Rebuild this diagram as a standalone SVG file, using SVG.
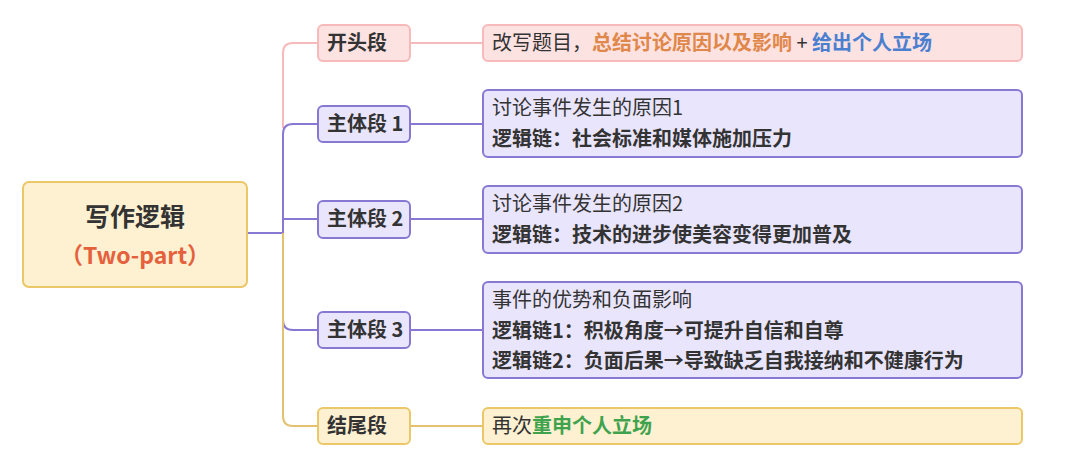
<svg xmlns="http://www.w3.org/2000/svg" width="1080" height="470" viewBox="0 0 1080 470">
<style>
text{font-family:"Noto Sans CJK SC","Noto Sans",sans-serif;fill:#333;font-size:20px}
.b{font-weight:bold}
.pk{fill:#fde2e2;stroke:#f7b9b9;stroke-width:2}
.pu{fill:#e9e5fc;stroke:#8878d4;stroke-width:2}
.ye{fill:#fdf1d2;stroke:#ebc768;stroke-width:2}
.lp{stroke:#f7b9b9;stroke-width:2;fill:none}
.lu{stroke:#8878d4;stroke-width:2;fill:none}
.ly{stroke:#e2c270;stroke-width:2;fill:none}
</style>
<rect width="1080" height="470" fill="#fff"/>
<g id="connectors">
<path class="lp" d="M318 43 H293 Q283 43 283 53 V128"/>
<path class="lu" d="M247 233 H283 M318 124 H293 Q283 124 283 134 V320 Q283 330 293 330 H318 M283 219 H318"/>
<path class="ly" d="M283 233 V416 Q283 426 293 426 H318"/>
<path class="lp" d="M410 43 H483"/>
<path class="lu" d="M410 124 H483 M410 219 H483 M410 330 H483"/>
<path class="ly" d="M410 426 H483"/>
</g>
<g id="root"><rect class="ye" x="23" y="182" width="224" height="105" rx="6"/>
<text class="b" x="135" y="226" text-anchor="middle" style="font-size:25px">写作逻辑</text>
<text class="b" x="135" y="264" text-anchor="middle" style="font-size:23px;fill:#e5603c">（Two-part）</text></g>
<g id="n1"><rect class="pk" x="318" y="25" width="92" height="36" rx="5"/><text class="b" x="327" y="50">开头段</text></g>
<g id="n2"><rect class="pu" x="318" y="106" width="92" height="36" rx="5"/><text class="b" x="327" y="131">主体段 1</text></g>
<g id="n3"><rect class="pu" x="318" y="201" width="92" height="37" rx="5"/><text class="b" x="327" y="226">主体段 2</text></g>
<g id="n4"><rect class="pu" x="318" y="312" width="92" height="36" rx="5"/><text class="b" x="327" y="337">主体段 3</text></g>
<g id="n5"><rect class="ye" x="318" y="408" width="92" height="36" rx="5"/><text class="b" x="327" y="433">结尾段</text></g>
<g id="d1"><rect class="pk" x="483" y="25" width="539" height="36" rx="5"/>
<text x="492" y="50">改写题目，<tspan class="b" style="fill:#e0874a">总结讨论原因以及影响</tspan> + <tspan class="b" style="fill:#4a7fd0">给出个人立场</tspan></text></g>
<g id="d2"><rect class="pu" x="483" y="90" width="539" height="67" rx="5"/>
<text x="492" y="115">讨论事件发生的原因1</text><text class="b" x="492" y="146">逻辑链：社会标准和媒体施加压力</text></g>
<g id="d3"><rect class="pu" x="483" y="186" width="539" height="67" rx="5"/>
<text x="492" y="211">讨论事件发生的原因2</text><text class="b" x="492" y="242">逻辑链：技术的进步使美容变得更加普及</text></g>
<g id="d4"><rect class="pu" x="483" y="282" width="539" height="96" rx="5"/>
<text x="492" y="307">事件的优势和负面影响</text><text class="b" x="492" y="338">逻辑链1：积极角度→可提升自信和自尊</text><text class="b" x="492" y="368">逻辑链2：负面后果→导致缺乏自我接纳和不健康行为</text></g>
<g id="d5"><rect class="ye" x="483" y="408" width="539" height="36" rx="5"/>
<text x="492" y="433">再次<tspan class="b" style="fill:#3fa34d">重申个人立场</tspan></text></g>
</svg>
